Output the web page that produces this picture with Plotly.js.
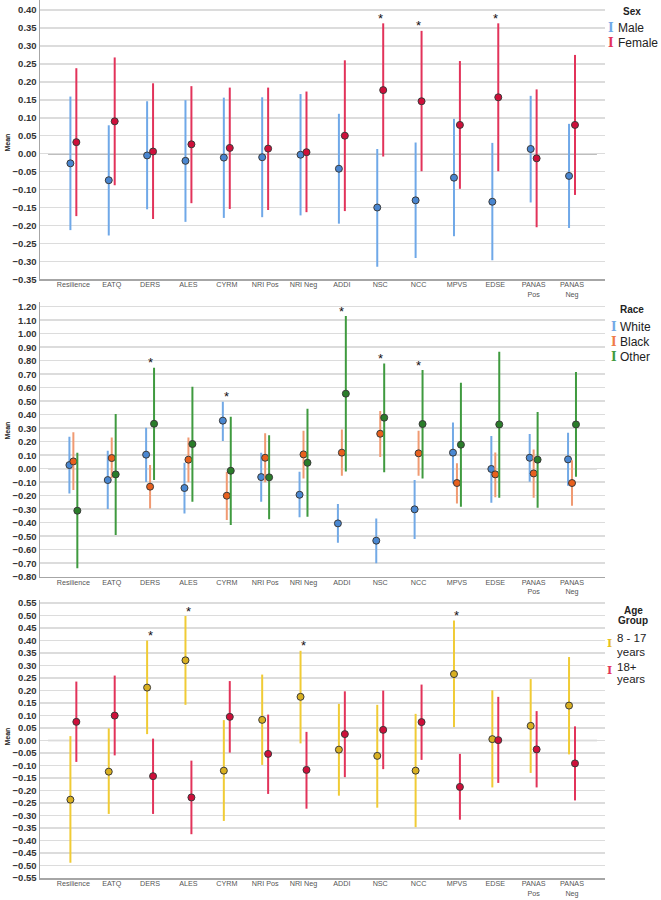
<!DOCTYPE html>
<html>
<head>
<meta charset="utf-8">
<script src="https://cdn.plot.ly/plotly-3.0.1.min.js"></script>
<style>html,body{margin:0;padding:0;background:#fff;}#chart{width:661px;height:900px;}</style>
</head>
<body>
<div id="chart"></div>
<script>
// ---------- DATA ----------
const categories = ['Resilience','EATQ','DERS','ALES','CYRM','NRI Pos','NRI Neg','ADDI','NSC','NCC','MPVS','EDSE','PANAS<br>Pos','PANAS<br>Neg'];

// Sex panel
const maleMean   = [-0.027,-0.074,-0.005,-0.020,-0.011,-0.010,-0.003,-0.042,-0.150,-0.130,-0.067,-0.134, 0.013,-0.062];
const maleLow    = [-0.213,-0.228,-0.155,-0.190,-0.179,-0.177,-0.172,-0.195,-0.315,-0.291,-0.230,-0.297,-0.136,-0.207];
const maleHigh   = [ 0.159, 0.079, 0.146, 0.149, 0.156, 0.157, 0.166, 0.111, 0.013, 0.031, 0.097, 0.030, 0.161, 0.083];
const femaleMean = [ 0.032, 0.090, 0.006, 0.026, 0.016, 0.014, 0.004, 0.050, 0.177, 0.146, 0.080, 0.157,-0.013, 0.080];
const femaleLow  = [-0.174,-0.088,-0.182,-0.138,-0.154,-0.157,-0.163,-0.160,-0.008,-0.049,-0.098,-0.049,-0.205,-0.115];
const femaleHigh = [ 0.238, 0.268, 0.196, 0.188, 0.184, 0.184, 0.173, 0.260, 0.363, 0.342, 0.258, 0.363, 0.179, 0.275];
const sexSignificant = ['NSC','NCC','EDSE'];

// Race panel
const whiteMean = [ 0.027,-0.084, 0.104,-0.143, 0.356,-0.062,-0.193,-0.405,-0.533,-0.301, 0.119,-0.002, 0.081, 0.069];
const whiteLow  = [-0.183,-0.299,-0.099,-0.331, 0.205,-0.244,-0.360,-0.548,-0.701,-0.521,-0.109,-0.252,-0.096,-0.126];
const whiteHigh = [ 0.237, 0.133, 0.304, 0.044, 0.496, 0.119,-0.022,-0.262,-0.368,-0.084, 0.343, 0.242, 0.257, 0.267];
const blackMean = [ 0.054, 0.079,-0.133, 0.067,-0.200, 0.081, 0.106, 0.119, 0.259, 0.114,-0.106,-0.042,-0.035,-0.106];
const blackLow  = [-0.158,-0.070,-0.294,-0.101,-0.380,-0.101,-0.072,-0.052, 0.086,-0.052,-0.257,-0.212,-0.215,-0.274];
const blackHigh = [ 0.270, 0.232, 0.027, 0.232,-0.022, 0.262, 0.281, 0.291, 0.427, 0.281, 0.040, 0.121, 0.143, 0.062];
const otherMean = [-0.311,-0.042, 0.333, 0.183,-0.015,-0.064, 0.044, 0.556, 0.378, 0.331, 0.178, 0.328, 0.067, 0.328];
const otherLow  = [-0.738,-0.491,-0.084,-0.244,-0.417,-0.375,-0.356,-0.020,-0.027,-0.072,-0.281,-0.215,-0.289,-0.059];
const otherHigh = [ 0.119, 0.405, 0.748, 0.607, 0.385, 0.247, 0.444, 1.131, 0.780, 0.731, 0.637, 0.867, 0.420, 0.716];
const raceSignificant = ['DERS','CYRM','ADDI','NSC','NCC'];

// Age group panel
const youngMean = [-0.237,-0.125, 0.211, 0.320,-0.121, 0.082, 0.174,-0.037,-0.062,-0.121, 0.265, 0.005, 0.058, 0.139];
const youngLow  = [-0.489,-0.294, 0.025, 0.142,-0.322,-0.098,-0.012,-0.221,-0.269,-0.347, 0.053,-0.188,-0.130,-0.056];
const youngHigh = [ 0.017, 0.048, 0.399, 0.497, 0.081, 0.263, 0.358, 0.146, 0.142, 0.106, 0.479, 0.200, 0.245, 0.333];
const oldMean   = [ 0.074, 0.099,-0.143,-0.228, 0.094,-0.054,-0.118, 0.025, 0.042, 0.073,-0.186, 0.001,-0.036,-0.092];
const oldLow    = [-0.086,-0.060,-0.294,-0.375,-0.049,-0.214,-0.273,-0.147,-0.115,-0.078,-0.317,-0.170,-0.188,-0.240];
const oldHigh   = [ 0.235, 0.259, 0.007,-0.081, 0.237, 0.103, 0.034, 0.196, 0.199, 0.223,-0.054, 0.174, 0.117, 0.056];
const ageSignificant = ['DERS','ALES','NRI Neg','MPVS'];

// ---------- BUILD ----------
const FONT = 'Liberation Sans, Arial, sans-serif';
const L = 40, W = 565, H = 878;
const xp = px => (px - L) / W;
const yp = py => (H - py) / H;

function series(name, mean, low, high, lineColor, fillColor, xa, ya) {
  return {
    type: 'scatter', mode: 'markers', name: name, x: categories, y: mean,
    xaxis: xa, yaxis: ya, showlegend: false, hoverinfo: 'skip', cliponaxis: false,
    marker: {size: 7, color: fillColor, line: {color: '#3a3a3a', width: 1}},
    error_y: {
      type: 'data', symmetric: false,
      array: high.map((h, i) => h - mean[i]),
      arrayminus: mean.map((m, i) => m - low[i]),
      color: lineColor, thickness: 2, width: 0
    }
  };
}

const data = [
  series('Male', maleMean, maleLow, maleHigh, '#6fa8e8', '#4a86d0', 'x', 'y'),
  series('Female', femaleMean, femaleLow, femaleHigh, '#e2335a', '#cf0f3a', 'x', 'y'),
  series('White', whiteMean, whiteLow, whiteHigh, '#72a9e6', '#4a88d2', 'x2', 'y2'),
  series('Black', blackMean, blackLow, blackHigh, '#f09a72', '#e8601e', 'x2', 'y2'),
  series('Other', otherMean, otherLow, otherHigh, '#3f9a3f', '#2a7d2a', 'x2', 'y2'),
  series('8 - 17 years', youngMean, youngLow, youngHigh, '#f0cb35', '#d9b021', 'x3', 'y3'),
  series('18+ years', oldMean, oldLow, oldHigh, '#e2335a', '#cf0f3a', 'x3', 'y3')
];

function xAxis(anchor) {
  return {
    type: 'category', anchor: anchor, domain: [0, 1], range: [-0.87, 13.86],
    showgrid: false, zeroline: false, showline: true, linecolor: '#a6a6a6', linewidth: 1.5,
    ticks: '', ticklabelstandoff: -2, tickfont: {family: FONT, size: 7.2, color: '#555'}, fixedrange: true
  };
}
function yAxis(anchor, domain, range, dtick) {
  return {
    anchor: anchor, domain: domain, range: range, dtick: dtick, tick0: 0, tickformat: '.2f',
    showgrid: true, gridcolor: '#dcdcdc', gridwidth: 1.5, zeroline: false,
    showline: true, linecolor: '#a6a6a6', linewidth: 1.5, ticks: '',
    tickfont: {family: FONT, size: 9.5, color: '#333', weight: 'bold'}, fixedrange: true
  };
}

function zeroLine(xa, ya, color) {
  return {type: 'line', xref: xa, yref: ya, x0: -0.66, x1: 13.65, y0: 0, y1: 0,
          line: {color: color, width: 1.5}, layer: 'below'};
}

function stars(list, highsList, xa, ya) {
  return list.map(cat => {
    const i = categories.indexOf(cat);
    const top = Math.max(...highsList.map(h => h[i]));
    return {xref: xa, yref: ya, x: cat, y: top, text: '*', showarrow: false,
            yanchor: 'middle', yshift: 5, font: {family: FONT, size: 13, color: '#111'}};
  });
}

function txt(text, px, py, opts) {
  return Object.assign({xref: 'paper', yref: 'paper', x: xp(px), y: yp(py), text: text,
    showarrow: false, xanchor: 'left', yanchor: 'middle', borderpad: 0, borderwidth: 0,
    font: {family: FONT, size: 12, color: '#222'}}, opts || {});
}
function icon(color, px, py, size) {
  return txt('I', px, py, {xanchor: 'center', font: {family: 'DejaVu Serif, Liberation Serif, serif', size: size || 12, color: color, weight: 'bold'}});
}
function title(text, px, py) {
  return txt('<b>' + text + '</b>', px, py, {xanchor: 'center', font: {family: FONT, size: 10, color: '#222'}});
}
function meanLabel(py) {
  return txt('<b>Mean</b>', 6.5, py, {xanchor: 'center', textangle: -90, font: {family: FONT, size: 7, color: '#222'}});
}
const AGEFONT = {family: FONT, size: 11.5, color: '#222'};

const annotations = [].concat(
  stars(sexSignificant, [maleHigh, femaleHigh], 'x', 'y'),
  stars(raceSignificant, [whiteHigh, blackHigh, otherHigh], 'x2', 'y2'),
  stars(ageSignificant, [youngHigh, oldHigh], 'x3', 'y3'),
  [
    title('Sex', 632, 11.7),
    icon('#6fa8e8', 611, 28), txt('Male', 617.5, 28),
    icon('#e2335a', 611, 43), txt('Female', 617.5, 43),
    title('Race', 632, 309),
    icon('#72a9e6', 614, 326.7), txt('White', 620, 326.7),
    icon('#f07a4a', 614, 341.7), txt('Black', 620, 341.7),
    icon('#3f9a3f', 614, 357.3), txt('Other', 620, 357.3),
    title('Age', 633, 610), title('Group', 633, 620.7),
    icon('#e8c020', 609.5, 643, 11), txt('8 - 17', 616.5, 638.3, {font: AGEFONT}),
    txt('years', 616.5, 651.7, {font: AGEFONT}),
    icon('#e2335a', 609.5, 670, 11), txt('18+', 616.5, 666.7, {font: AGEFONT}),
    txt('years', 616.5, 679.3, {font: AGEFONT}),
    meanLabel(143), meanLabel(431), meanLabel(737)
  ]
);

const layout = {
  width: 661, height: 900,
  margin: {l: L, r: 56, t: 0, b: 22, pad: 0},
  paper_bgcolor: '#ffffff', plot_bgcolor: '#ffffff',
  showlegend: false,
  scattermode: 'group', scattergap: 0.69,
  font: {family: FONT},
  xaxis: xAxis('y'), xaxis2: xAxis('y2'), xaxis3: xAxis('y3'),
  yaxis: yAxis('x', [yp(279.3), 1.0], [-0.35, 0.428], 0.05),
  yaxis2: yAxis('x2', [yp(576.7), yp(302)], [-0.80, 1.235], 0.1),
  yaxis3: yAxis('x3', [0, yp(600)], [-0.55, 0.561], 0.05),
  shapes: [zeroLine('x', 'y', '#7f7f7f'), zeroLine('x2', 'y2', '#c4c4c4'), zeroLine('x3', 'y3', '#c4c4c4')],
  annotations: annotations
};

Plotly.newPlot('chart', data, layout, {displayModeBar: false, staticPlot: true});
</script>
</body>
</html>
